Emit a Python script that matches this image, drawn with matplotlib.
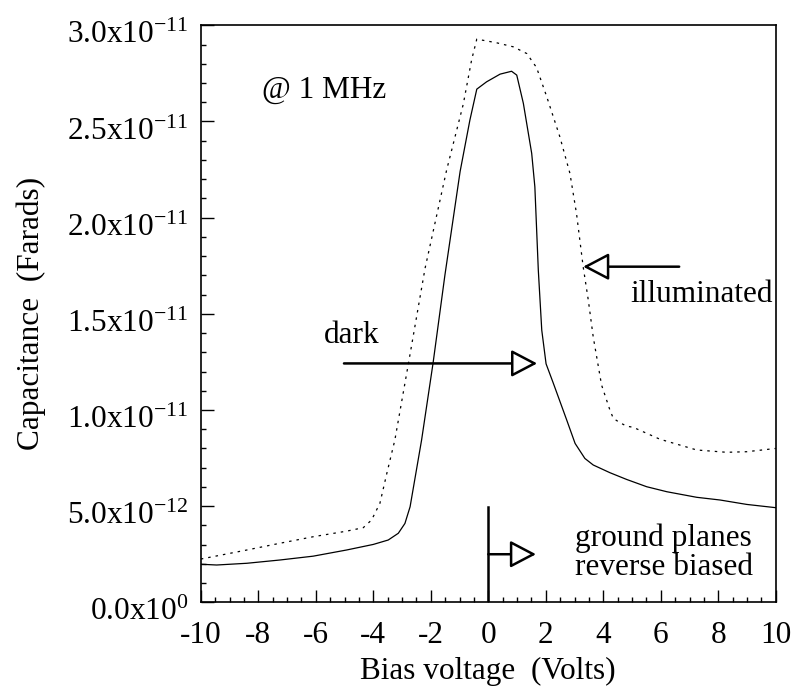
import numpy as np
import matplotlib
matplotlib.use("Agg")
import matplotlib.pyplot as plt
from matplotlib.transforms import ScaledTranslation

plt.rcParams['font.family'] = 'serif'
plt.rcParams['font.serif'] = ['Liberation Serif', 'DejaVu Serif']
plt.rcParams['mathtext.fontset'] = 'custom'
plt.rcParams['mathtext.rm'] = 'Liberation Serif'
plt.rcParams['mathtext.it'] = 'Liberation Serif:italic'
plt.rcParams['axes.unicode_minus'] = False

# dark curve (bias voltage in V, capacitance in pF -> scaled to F below)
dark_v = [-10, -9.45, -8.4, -7.25, -6.09, -4.93, -4.0, -3.48, -3.13, -2.9, -2.72,
          -2.32, -1.92, -1.51, -0.98, -0.64, -0.4, -0.06, 0.41, 0.81, 0.99,
          1.22, 1.51, 1.62, 1.74, 1.86, 2.01, 2.26, 2.73, 3.02, 3.36,
          3.65, 4.23, 4.81, 5.51, 6.21, 7.25, 8.06, 8.99, 10]
dark_c = [1.98, 1.94, 2.03, 2.2, 2.4, 2.72, 3.01, 3.24, 3.59, 4.1, 4.97,
          8.44, 12.45, 17.0, 22.4, 25.07, 26.68, 27.06, 27.46, 27.61, 27.41,
          25.94, 23.34, 21.6, 17.27, 14.15, 12.4, 11.4, 9.47, 8.26, 7.48,
          7.14, 6.74, 6.39, 6.01, 5.75, 5.46, 5.32, 5.09, 4.92]

# illuminated curve
illum_v = [-10, -8.4, -7.25, -6.09, -4.93, -4.35, -4.06, -3.77, -3.53, -3.25,
           -2.78, -2.2, -1.45, -0.87, -0.58, -0.4, 0.29, 0.87, 1.34, 1.68,
           2.03, 2.49, 2.84, 3.07, 3.3, 3.48, 3.65, 3.94, 4.23, 4.35,
           4.58, 4.81, 5.04, 5.97, 7.25, 8.29, 8.99, 10]
illum_c = [2.25, 2.72, 3.07, 3.41, 3.7, 3.88, 4.28, 5.15, 6.7, 8.44,
           12.4, 17.36, 22.47, 25.9, 28.2, 29.28, 29.09, 28.88, 28.53, 27.8,
           26.3, 24.2, 22.3, 20.2, 17.45, 15.7, 13.8, 11.3, 10.0, 9.56,
           9.34, 9.16, 9.1, 8.48, 7.92, 7.8, 7.83, 8.0]

y_ticks = [0, 5e-12, 1e-11, 1.5e-11, 2e-11, 2.5e-11, 3e-11]
y_labels = ['0.0x10$^{0}$', '5.0x10$^{-12}$', '1.0x10$^{-11}$', '1.5x10$^{-11}$',
            '2.0x10$^{-11}$', '2.5x10$^{-11}$', '3.0x10$^{-11}$']
x_ticks = [-10, -8, -6, -4, -2, 0, 2, 4, 6, 8, 10]
x_labels = ['-10', '-8', '-6', '-4', '-2', '0', '2', '4', '6', '8', '10']

FS = 22.5

fig = plt.figure(figsize=(7.95, 6.89), dpi=100)
ax = fig.add_axes([0.2526, 0.1258, 0.7232, 0.8375])

ax.plot(dark_v, np.array(dark_c) * 1e-12, color='black', lw=0.9)
ax.plot(illum_v, np.array(illum_c) * 1e-12, color='black', lw=0.9,
        linestyle=(0, (2, 4)))

ax.set_xlim(-10, 10)
ax.set_ylim(0, 3e-11)
ax.set_xticks(x_ticks)
ax.set_xticklabels(x_labels)
ax.set_yticks(y_ticks)
ax.set_yticklabels(y_labels)
ax.set_xticks(np.arange(-10, 10.01, 0.5), minor=True)
ax.set_yticks(np.arange(0, 3.01e-11, 1e-12), minor=True)

ax.tick_params(which='both', direction='in', top=False, right=False,
               labelsize=FS, width=1.0)
ax.tick_params(axis='x', which='major', length=9, pad=13.5)
ax.tick_params(axis='y', which='major', length=9, pad=9)
ax.tick_params(which='minor', length=3.5)
for s in ax.spines.values():
    s.set_linewidth(1.2)

# y tick labels sit a little below their ticks in the original
shift = ScaledTranslation(0, -5 / 72, fig.dpi_scale_trans)
for lab in ax.get_yticklabels():
    lab.set_transform(lab.get_transform() + shift)

ax.set_xlabel('Bias voltage  (Volts)', fontsize=FS, labelpad=5)
ax.set_ylabel('Capacitance  (Farads)', fontsize=FS, labelpad=15)

# annotations
arrow = dict(arrowstyle='-|>,head_length=0.8,head_width=0.42', lw=1.8,
             ec='black', fc='white', mutation_scale=20,
             shrinkA=0, shrinkB=0)
ax.annotate('', xy=(1.70, 1.242e-11), xytext=(-5.02, 1.242e-11), arrowprops=arrow)
ax.annotate('', xy=(3.30, 1.745e-11), xytext=(6.64, 1.745e-11), arrowprops=arrow)
ax.annotate('', xy=(1.66, 2.5e-12), xytext=(0, 2.5e-12), arrowprops=arrow)
ax.plot([0, 0], [0, 4.97e-12], color='black', lw=1.8)

ax.text(-7.88, 2.621e-11, '@ 1 MHz', fontsize=FS, ha='left', va='baseline')
ax.text(-4.75, 1.348e-11, 'dark', fontsize=FS, ha='center', va='baseline')
ax.text(7.42, 1.562e-11, 'illuminated', fontsize=FS, ha='center', va='baseline')
ax.text(6.1, 2.6e-12, 'ground planes\nreverse biased', fontsize=FS,
        ha='center', va='center', linespacing=1.0)

fig.savefig('out.png', dpi=100)
